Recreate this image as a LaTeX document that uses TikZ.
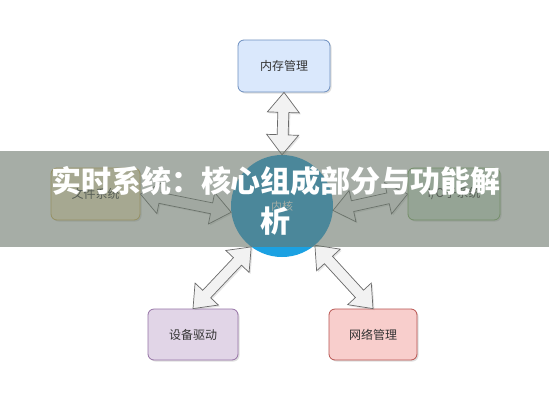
\documentclass[tikz,border=0pt]{standalone}
\usepackage{fontspec}
\newfontfamily\cjk{Noto Sans CJK SC}
\usetikzlibrary{calc,shadows}
\definecolor{memfill}{HTML}{DAE8FC}\definecolor{memline}{HTML}{6C8EBF}
\definecolor{fsfill}{HTML}{FFF2CC}\definecolor{fsline}{HTML}{D6B656}
\definecolor{iofill}{HTML}{D5E8D4}\definecolor{ioline}{HTML}{82B366}
\definecolor{devfill}{HTML}{E1D5E7}\definecolor{devline}{HTML}{9673A6}
\definecolor{netfill}{HTML}{F8CECC}\definecolor{netline}{HTML}{B85450}
\definecolor{corefill}{HTML}{1BA1E2}
\definecolor{arrowfill}{HTML}{F2F2F2}\definecolor{arrowline}{HTML}{6A6A6A}
\definecolor{bannercol}{RGB}{107,119,107}
\definecolor{labeltext}{HTML}{333333}
\tikzset{
  box/.style={rounded corners=6pt, draw, line width=0.8pt,
    font=\cjk\fontsize{12}{14}\selectfont, text=labeltext,
    drop shadow={shadow xshift=1.5pt, shadow yshift=-1.5pt, opacity=0.25}},
  barrow/.style={fill=arrowfill, draw=arrowline, line width=0.7pt, line join=miter,
    drop shadow={shadow xshift=1.5pt, shadow yshift=-1.5pt, opacity=0.2}},
  corestyle/.style={circle, fill=corefill, minimum size=102pt, inner sep=0pt,
    font=\cjk\fontsize{11}{13}\selectfont, text=white},
  titlestyle/.style={font=\cjk\bfseries\fontsize{30}{40}\selectfont, text=white, align=center}
}
\newcommand\dblarrow[2]{%
  \path (#1) coordinate (ba-a) (#2) coordinate (ba-b);
  \path ($(ba-a)!20pt!(ba-b)$) coordinate (ba-ha) ($(ba-b)!20pt!(ba-a)$) coordinate (ba-hb);
  \filldraw[barrow] (ba-a) -- ($(ba-ha)!16pt!90:(ba-b)$) -- ($(ba-ha)!5.5pt!90:(ba-b)$)
    -- ($(ba-hb)!5.5pt!-90:(ba-a)$) -- ($(ba-hb)!16pt!-90:(ba-a)$) -- (ba-b)
    -- ($(ba-hb)!16pt!90:(ba-a)$) -- ($(ba-hb)!5.5pt!90:(ba-a)$)
    -- ($(ba-ha)!5.5pt!-90:(ba-b)$) -- ($(ba-ha)!16pt!-90:(ba-b)$) -- cycle;
}
\begin{document}
\begin{tikzpicture}[x=1pt,y=-1pt]
\useasboundingbox (0,0) rectangle (549,400);
\fill[white] (0,0) rectangle (549,400);
\node[box, fill=memfill, draw=memline, minimum width=92pt, minimum height=52pt] (mem) at (284,66) {内存管理};
\node[box, fill=fsfill, draw=fsline, minimum width=89pt, minimum height=52pt] (fs) at (95.5,194) {文件系统};
\node[box, fill=iofill, draw=ioline, minimum width=92pt, minimum height=52pt] (io) at (454,194) {I/O子系统};
\node[box, fill=devfill, draw=devline, minimum width=90pt, minimum height=51pt] (dev) at (193,334.5) {设备驱动};
\node[box, fill=netfill, draw=netline, minimum width=88pt, minimum height=51pt] (net) at (373,334.5) {网络管理};
\node[corestyle] (core) at (282,206) {内核};
\dblarrow{mem.south}{core.north}
\dblarrow{fs.east}{core.187}
\dblarrow{core.-5}{io.west}
\dblarrow{dev.north}{core.233}
\dblarrow{core.-50}{net.north}
\fill[bannercol, opacity=0.6] (0,151) rectangle (549,247);
\node[titlestyle] (title) at (276,201) {实时系统：核心组成部分与功能解\\析};
\end{tikzpicture}
\end{document}
